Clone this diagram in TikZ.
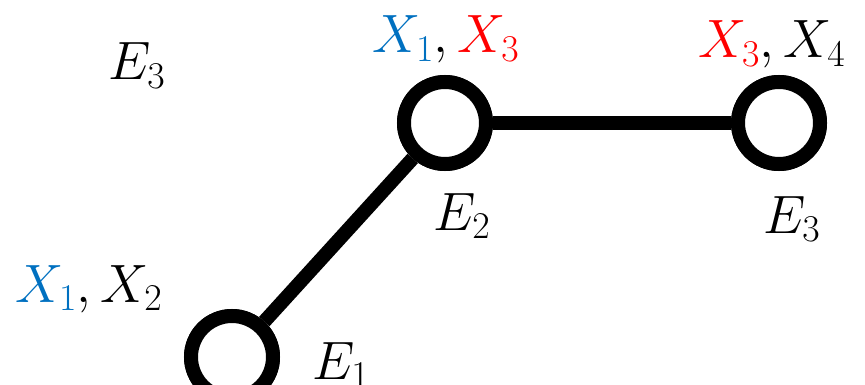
\documentclass[tikz,border=0pt]{standalone}
\usepackage{fix-cm}
\usepackage{tikz}
\usepackage{xcolor}
\definecolor{varblue}{HTML}{0070C0}
\definecolor{varred}{HTML}{FF0000}

\begin{document}
\begin{tikzpicture}[x=1pt, y=-1pt,
    every node/.style={font=\fontsize{54}{60}\selectfont, inner sep=0pt},
    sommet/.style={circle, draw=black, fill=white, line width=14pt, minimum size=82pt},
    lbl/.style={anchor=base west}]
        \useasboundingbox (0,0) rectangle (865,385);

        % sommets du chemin
        \node[sommet] (e1) at (232,357) {};
        \node[sommet] (e2) at (445,123) {};
        \node[sommet] (e3) at (779,123) {};
        \draw[line width=14pt] (e1) -- (e2);
        \draw[line width=14pt] (e2) -- (e3);
        \node[sommet] at (e1) {};
        \node[sommet] at (e2) {};
        \node[sommet] at (e3) {};

        % variables et noms des sommets
        \node[lbl] (v1) at (15,302) {$\color{varblue}X_1\color{black},X_2$};
        \node[lbl] (v2) at (372,53) {$\color{varblue}X_1\color{black},\color{varred}X_3$};
        \node[lbl] (v3) at (698,58) {$\color{varred}X_3\color{black},X_4$};
        \node[lbl] (n1) at (312,379) {$E_1$};
        \node[lbl] (n2) at (433,230) {$E_2$};
        \node[lbl] (n3) at (763,233) {$E_3$};
        \node[lbl] (n0) at (108,80) {$E_3$};
      \end{tikzpicture}
\end{document}
